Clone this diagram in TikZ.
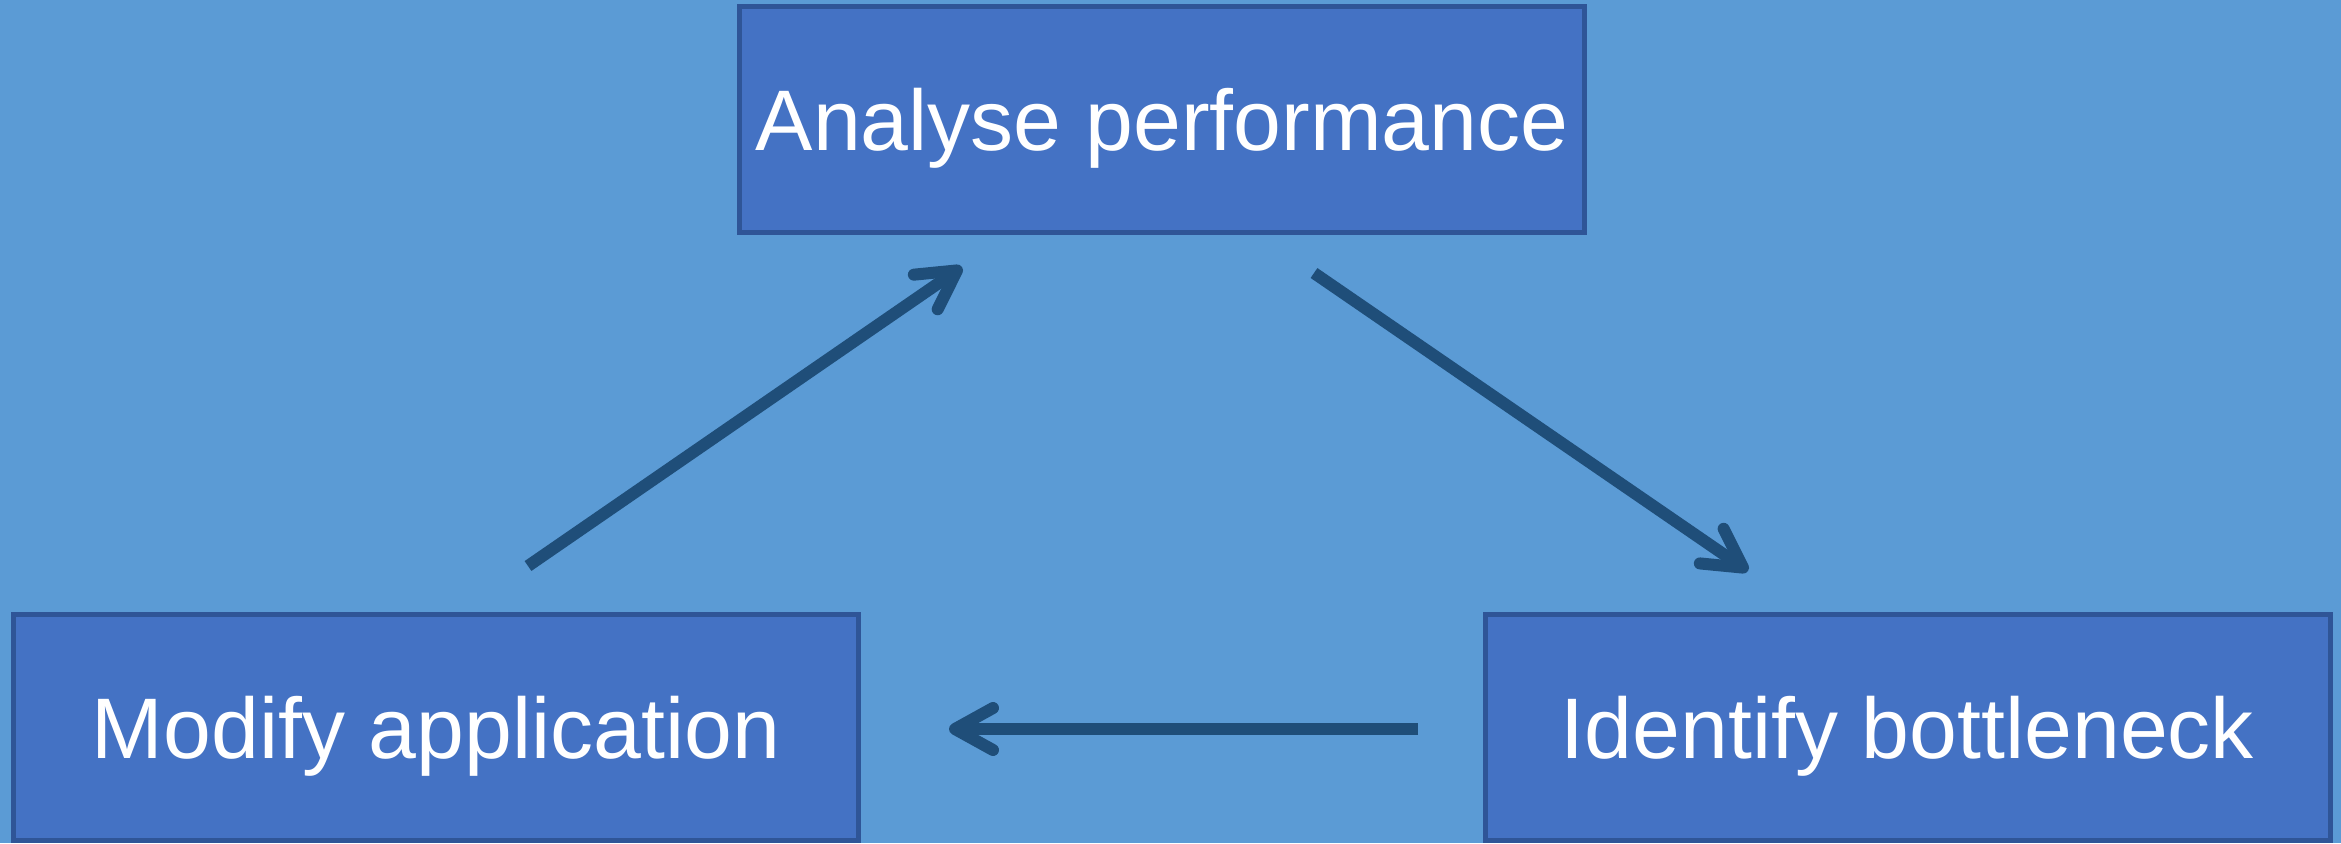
\documentclass[tikz,border=0pt]{standalone}
\usepackage{fontspec}
\setmainfont{Liberation Sans}
\usetikzlibrary{arrows.meta}
\definecolor{bgblue}{HTML}{5B9BD5}
\definecolor{boxfill}{HTML}{4472C4}
\definecolor{boxline}{HTML}{2F5597}
\definecolor{arrowcol}{HTML}{1F4E79}
\tikzset{
  stepbox/.style={draw=boxline, fill=boxfill, line width=2.5pt, minimum width=422.5pt, minimum height=113pt, inner sep=0pt, outer sep=0pt, text height=31pt, text depth=0pt, text=white, font=\fontsize{43}{50}\selectfont},
  flowarrow/.style={draw=arrowcol, line width=6pt, -{Straight Barb[length=19pt,width=21pt,round]}}
}
\begin{document}
\begin{tikzpicture}[x=0.5pt,y=-0.5pt]
\fill[bgblue] (0,0) rectangle (2341,843);
\useasboundingbox (0,0) rectangle (2341,843);
\node[stepbox] (analyse) at (1162,119.5) {Analyse performance};
\node[stepbox] (modify) at (436,727.5) {Modify application};
\node[stepbox] (identify) at (1907.5,727.5) {Identify bottleneck};
\coordinate (a1) at (528,566);
\coordinate (a2) at (962,267);
\coordinate (b1) at (1314,273);
\coordinate (b2) at (1748,571);
\coordinate (c1) at (1418,729);
\coordinate (c2) at (949,729);
\draw[flowarrow] (a1) -- (a2);
\draw[flowarrow] (b1) -- (b2);
\draw[flowarrow] (c1) -- (c2);
\end{tikzpicture}
\end{document}
